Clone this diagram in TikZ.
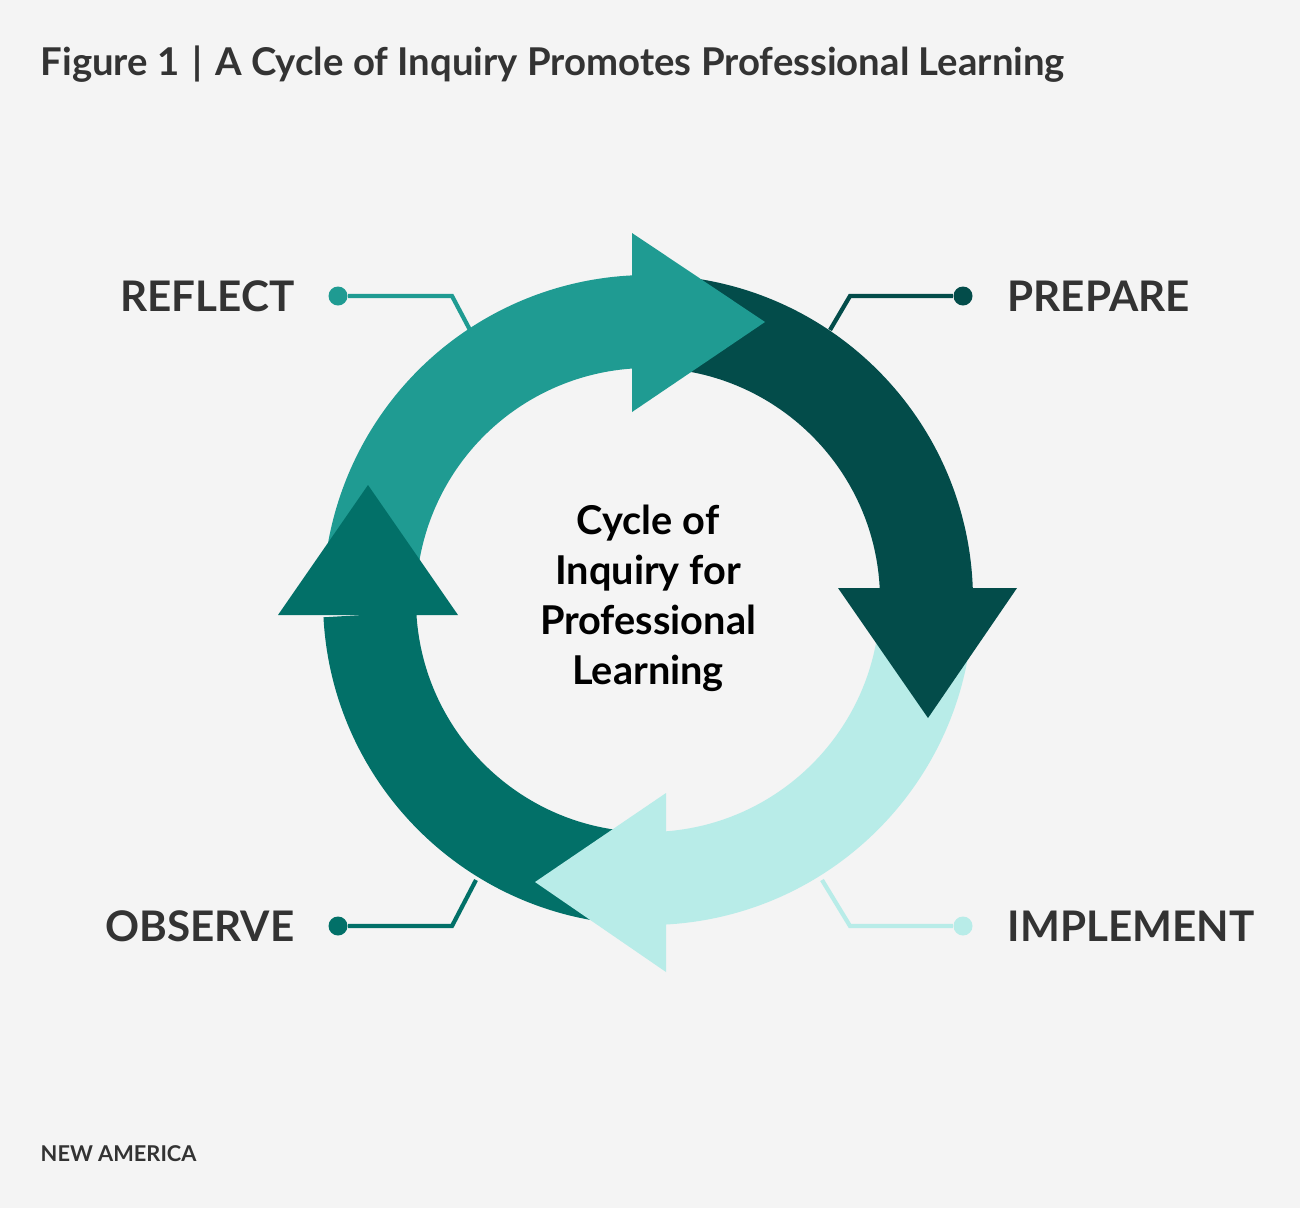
\documentclass[tikz,border=0pt]{standalone}
\usepackage{fontspec}
\setmainfont{Lato}
\definecolor{bg}{HTML}{F4F4F4}
\definecolor{cref}{HTML}{1F9B92}
\definecolor{cpre}{HTML}{034C4A}
\definecolor{cimp}{HTML}{B8ECE8}
\definecolor{cobs}{HTML}{027068}
\definecolor{txt}{HTML}{333333}
\begin{document}
\begin{tikzpicture}[
  body/.style={line width=0.93cm},
  lead/.style={line width=1.2pt},
  lab/.style={font=\fontsize{12}{14}\selectfont\bfseries, text=txt, inner sep=0pt},
]
\fill[bg] (0,0) rectangle (13,12.08);
\useasboundingbox (0,0) rectangle (13,12.08);
\coordinate (C) at (6.48,6.08);
% bodies (reverse order so each covers the next one's tail)
\draw[body,cobs] (C) ++(-90:2.785) arc[start angle=-90,end angle=-177,radius=2.785];
\draw[body,cimp] (C) ++(-2:2.785) arc[start angle=-2,end angle=-87,radius=2.785];
\draw[body,cpre] (C) ++(91:2.785) arc[start angle=91,end angle=1.5,radius=2.785];
\draw[body,cref] (C) ++(182.5:2.785) arc[start angle=182.5,end angle=92,radius=2.785];
% heads
\fill[cref] (6.32,9.75) -- (6.32,7.96) -- (7.65,8.86) -- cycle;
\fill[cpre] (8.38,6.20) -- (10.17,6.20) -- (9.28,4.90) -- cycle;
\fill[cimp] (6.66,4.15) -- (6.66,2.36) -- (5.35,3.26) -- cycle;
\fill[cobs] (2.78,5.93) -- (4.58,5.93) -- (3.68,7.23) -- cycle;
% leaders
\coordinate (r1) at (4.52,9.12); \coordinate (r2) at (4.70,8.78);
\node[circle,fill=cref,minimum size=0.19cm,inner sep=0] (rd) at (3.38,9.12) {};
\draw[lead,cref] (rd) -- (r1) -- (r2);
\coordinate (p1) at (8.50,9.12); \coordinate (p2) at (8.30,8.78);
\node[circle,fill=cpre,minimum size=0.19cm,inner sep=0] (pd) at (9.63,9.12) {};
\draw[lead,cpre] (pd) -- (p1) -- (p2);
\coordinate (o1) at (4.52,2.82); \coordinate (o2) at (4.76,3.28);
\node[circle,fill=cobs,minimum size=0.19cm,inner sep=0] (od) at (3.38,2.82) {};
\draw[lead,cobs] (od) -- (o1) -- (o2);
\coordinate (i1) at (8.50,2.82); \coordinate (i2) at (8.22,3.28);
\node[circle,fill=cimp,minimum size=0.19cm,inner sep=0] (id) at (9.63,2.82) {};
\draw[lead,cimp] (id) -- (i1) -- (i2);
% labels
\node[lab,anchor=east] (rl) at (2.95,9.12) {REFLECT};
\node[lab,anchor=west] (pl) at (10.07,9.12) {PREPARE};
\node[lab,anchor=east] (ol) at (2.95,2.82) {OBSERVE};
\node[lab,anchor=west] (il) at (10.07,2.82) {IMPLEMENT};
\node[align=center,font=\fontsize{11.3}{14.2}\selectfont\bfseries,text=black] (c) at (6.48,6.1) {Cycle of\\Inquiry for\\Professional\\Learning};
\node[anchor=west,font=\fontsize{10.9}{13}\selectfont\bfseries,text=txt,inner sep=0] (t) at (0.40,11.44) {Figure 1\,\,|\,\,A Cycle of Inquiry Promotes Professional Learning};
\node[anchor=west,font=\fontsize{6.2}{7}\selectfont\bfseries,text=txt,inner sep=0] (na) at (0.40,0.54) {NEW AMERICA};
\end{tikzpicture}
\end{document}
